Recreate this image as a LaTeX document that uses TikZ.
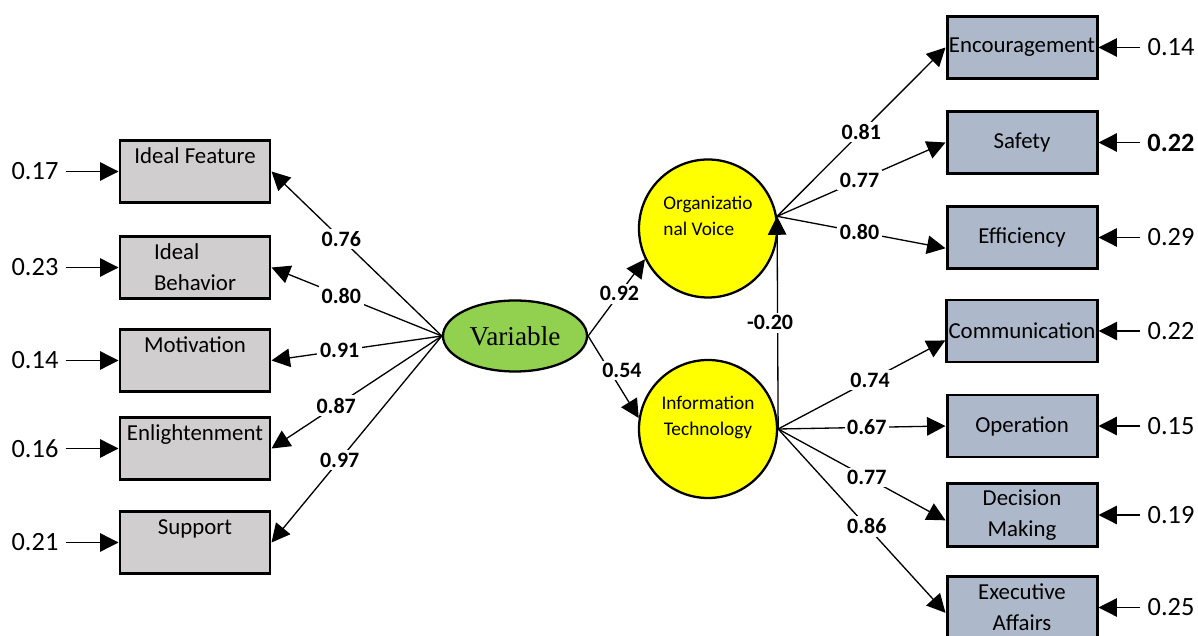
\documentclass[tikz,border=0pt]{standalone}
\usepackage{fontspec}
\setmainfont{Carlito}
\newfontfamily\varfont{Liberation Serif}
\usepackage{tikz}
\usetikzlibrary{arrows.meta,shapes.geometric}
\definecolor{IndGray}{HTML}{D0CECE}
\definecolor{IndBlue}{HTML}{ADB9CA}
\definecolor{VarGreen}{HTML}{92D050}
\definecolor{LatYellow}{HTML}{FFFF00}
\tikzset{
  sem/indicator/.style={draw, line width=1.7pt, minimum width=3.0cm, minimum height=1.24cm, inner xsep=1pt, align=center, font=\fontsize{13}{17.6}\selectfont},
  sem/leftind/.style={sem/indicator, fill=IndGray},
  sem/rightind/.style={sem/indicator, fill=IndBlue},
  sem/latent/.style={draw, circle, line width=1.3pt, fill=LatYellow, minimum size=2.76cm, inner sep=0pt, align=center, font=\fontsize{11}{14.7}\selectfont},
  sem/exog/.style={draw, ellipse, line width=1.3pt, fill=VarGreen, minimum width=2.88cm, minimum height=1.42cm, inner sep=0pt, font=\varfont\fontsize{15.5}{18}\selectfont},
  sem/error/.style={inner sep=2pt, inner xsep=4pt, font=\fontsize{15}{18}\selectfont},
  sem/path/.style={line width=0.75pt, -{Triangle[length=10.5pt,width=10.5pt]}},
  sem/coef/.style={fill=white, inner sep=1.5pt, font=\bfseries\fontsize{12.5}{15}\selectfont}
}

\begin{document}
\begin{tikzpicture}
  \path[use as bounding box, fill=white] (0,0) rectangle (23.96,12.7);

  % left indicators
  \node[sem/leftind] (idealf) at (3.9,9.27) {Ideal Feature\\\mbox{}};
  \node[sem/leftind, align=left] (idealb) at (3.9,7.35) {Ideal\\Behavior};
  \node[sem/leftind] (motiv) at (3.9,5.49) {Motivation\\\mbox{}};
  \node[sem/leftind] (enlight) at (3.9,3.73) {Enlightenment\\\mbox{}};
  \node[sem/leftind] (support) at (3.9,1.85) {Support\\\mbox{}};

  \node[sem/error] (e1) at (0.7,9.27) {0.17};
  \node[sem/error] (e2) at (0.7,7.35) {0.23};
  \node[sem/error] (e3) at (0.7,5.49) {0.14};
  \node[sem/error] (e4) at (0.7,3.73) {0.16};
  \node[sem/error] (e5) at (0.7,1.85) {0.21};
  \draw[sem/path] (e1.east) -- (idealf.west);
  \draw[sem/path] (e2.east) -- (idealb.west);
  \draw[sem/path] (e3.east) -- (motiv.west);
  \draw[sem/path] (e4.east) -- (enlight.west);
  \draw[sem/path] (e5.east) -- (support.west);

  % factors
  \node[sem/exog] (var) at (10.3,5.98) {Variable};
  \node[sem/latent, align=left] (ov) at (14.16,8.13) {Organizatio\\nal Voice\\\mbox{}};
  \node[sem/latent] (it) at (14.16,4.12) {Information\\Technology\\\mbox{}};

  \draw[sem/path] (var.west) -- node[sem/coef, pos=0.59] {0.76} (idealf.east);
  \draw[sem/path] (var.west) -- node[sem/coef, pos=0.59] {0.80} (idealb.east);
  \draw[sem/path] (var.west) -- node[sem/coef, pos=0.6] {0.91} (motiv.east);
  \draw[sem/path] (var.west) -- node[sem/coef, pos=0.62] {0.87} (enlight.east);
  \draw[sem/path] (var.west) -- node[sem/coef, pos=0.6] {0.97} (support.east);

  \draw[sem/path] (var.east) -- node[sem/coef, pos=0.55] {0.92} (ov.206);
  \draw[sem/path] (var.east) -- node[sem/coef, pos=0.42, xshift=0.25cm] {0.54} (it.171);
  \draw[sem/path] (it.east) -- node[sem/coef, pos=0.5, xshift=-0.15cm] {-0.20} (ov.10);

  % right indicators
  \node[sem/rightind] (enc) at (20.44,11.75) {Encouragement};
  \node[sem/rightind] (saf) at (20.44,9.85) {Safety};
  \node[sem/rightind] (eff) at (20.44,7.95) {Efficiency};
  \node[sem/rightind] (comm) at (20.44,6.08) {Communication};
  \node[sem/rightind] (oper) at (20.44,4.18) {Operation};
  \node[sem/rightind] (dm) at (20.44,2.4) {Decision\\Making};
  \node[sem/rightind] (ea) at (20.44,0.55) {Executive\\Affairs};

  \draw[sem/path] (ov.10) -- node[sem/coef, pos=0.5] {0.81} (enc.west);
  \draw[sem/path] (ov.10) -- node[sem/coef, pos=0.49] {0.77} (saf.west);
  \draw[sem/path] (ov.10) -- node[sem/coef, pos=0.49] {0.80} (eff.188);
  \draw[sem/path] (it.east) -- node[sem/coef, pos=0.55] {0.74} (comm.187);
  \draw[sem/path] (it.east) -- node[sem/coef, pos=0.53] {0.67} (oper.west);
  \draw[sem/path] (it.east) -- node[sem/coef, pos=0.53] {0.77} (dm.184);
  \draw[sem/path] (it.east) -- node[sem/coef, pos=0.53] {0.86} (ea.184);

  \node[sem/error] (e6) at (23.42,11.75) {0.14};
  \node[sem/error, font=\bfseries\fontsize{15}{18}\selectfont] (e7) at (23.42,9.85) {0.22};
  \node[sem/error] (e8) at (23.42,7.95) {0.29};
  \node[sem/error] (e9) at (23.42,6.08) {0.22};
  \node[sem/error] (e10) at (23.42,4.18) {0.15};
  \node[sem/error] (e11) at (23.42,2.4) {0.19};
  \node[sem/error] (e12) at (23.42,0.55) {0.25};
  \draw[sem/path] (e6.west) -- (enc.east);
  \draw[sem/path] (e7.west) -- (saf.east);
  \draw[sem/path] (e8.west) -- (eff.east);
  \draw[sem/path] (e9.west) -- (comm.east);
  \draw[sem/path] (e10.west) -- (oper.east);
  \draw[sem/path] (e11.west) -- (dm.east);
  \draw[sem/path] (e12.west) -- (ea.east);
\end{tikzpicture}
\end{document}
